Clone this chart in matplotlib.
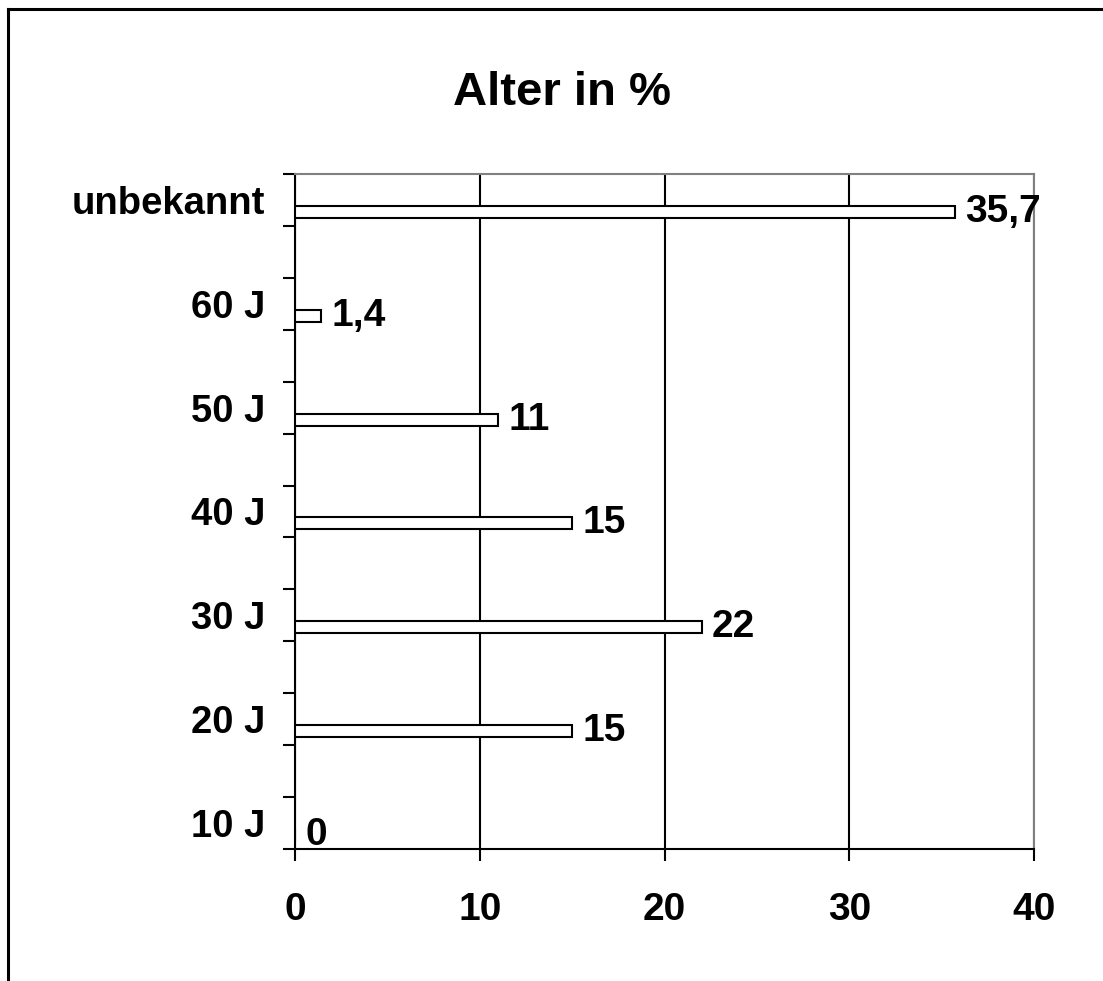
import matplotlib.pyplot as plt
from matplotlib.lines import Line2D

categories = ["10 J", "20 J", "30 J", "40 J", "50 J", "60 J", "unbekannt"]
values = [0, 15, 22, 15, 11, 1.4, 35.7]
value_labels = ["0", "15", "22", "15", "11", "1,4", "35,7"]
xticks = [0, 10, 20, 30, 40]

plt.rcParams['font.family'] = ['Liberation Sans', 'DejaVu Sans']
plt.rcParams['font.weight'] = 'bold'

fig = plt.figure(figsize=(11.03, 9.81), dpi=100)
ax = fig.add_axes([0.2675, 0.1346, 0.67, 0.6880])

# bars sit a bit below the middle of each category slot (2 units per slot)
ypos = [2 * i + 0.27 for i in range(len(categories))]
lpos = [2 * i + 0.5 for i in range(len(categories))]

ax.barh(ypos, values, height=0.23, color='white', edgecolor='black', linewidth=1.5, zorder=3)
for y, v, t in zip(ypos, values, value_labels):
    ax.annotate(t, (v, y), xytext=(7.5, 0), textcoords='offset points',
                ha='left', va='center', fontsize=28, fontweight='bold', zorder=4)

ax.set_xlim(0, 40)
ax.set_ylim(0, 13)
ax.set_xticks(xticks)
ax.set_xticklabels([str(t) for t in xticks])
ax.set_yticks(range(14))
ax.set_yticklabels([])
ax.set_yticks(lpos, minor=True)
ax.set_yticklabels(categories, minor=True)

ax.tick_params(axis='x', direction='out', length=8.5, width=1.5, pad=22.5, labelsize=28)
ax.tick_params(axis='y', which='major', direction='out', length=8.5, width=1.5)
ax.tick_params(axis='y', which='minor', length=0, pad=21.5, labelsize=27.5)

ax.grid(axis='x', color='black', linewidth=1.5, zorder=1)
ax.set_axisbelow(True)

for side in ['left', 'bottom']:
    ax.spines[side].set_color('black')
    ax.spines[side].set_linewidth(1.5)
for side in ['top', 'right']:
    ax.spines[side].set_color('#808080')
    ax.spines[side].set_linewidth(1.5)

fig.text(0.5095, 0.905, "Alter in %", ha='center', va='center', fontsize=34, fontweight='bold')

# outer frame (only top and left edges visible)
fig.add_artist(Line2D([8 / 1103, 1], [1 - 9 / 981, 1 - 9 / 981], color='black', linewidth=2.2))
fig.add_artist(Line2D([8 / 1103, 8 / 1103], [0, 1 - 9 / 981], color='black', linewidth=2.2))

fig.savefig("out.png", dpi=100)
